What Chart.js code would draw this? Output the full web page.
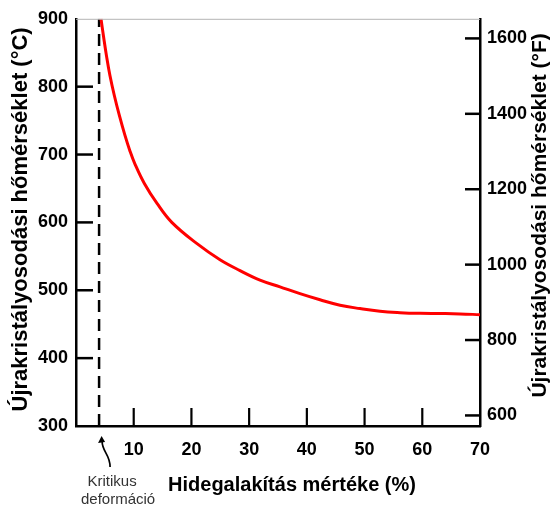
<!DOCTYPE html>
<html>
<head>
<meta charset="utf-8">
<script src="https://cdn.jsdelivr.net/npm/chart.js@4"></script>
<style>
  html, body { margin: 0; padding: 0; background: #fff; }
  #wrap { width: 553px; height: 507px; }
</style>
</head>
<body>
<div id="wrap"><canvas id="recryChart" width="553" height="507"></canvas></div>
<script>
// cold work (%) vs recrystallization temperature (°C)
const coldWork = [4.33, 4.77, 5.29, 5.89, 6.64, 7.5, 8.46, 9.36, 10.22, 11.87, 14.04, 16.6, 20.91, 24.95, 28.42, 31.88, 35.35, 38.81, 42.28, 45.75, 49.21, 52.68, 56.14, 59.61, 63.07, 66.54, 70];
const recryTempC = [900, 874, 845, 816, 787, 758, 729, 705, 686, 657, 628, 600, 569, 545, 529, 515, 505, 495, 486, 478, 473, 469, 467, 466, 465.7, 465.2, 464];
const critDeform = 4;

const xTicks = [10, 20, 30, 40, 50, 60, 70];
const celsiusTicks = [300, 400, 500, 600, 700, 800, 900];
const fahrenheitTicks = [600, 800, 1000, 1200, 1400, 1600];

const cMin = 300, cMax = 900;
const toF = c => c * 9 / 5 + 32;

const labelFont = { family: 'Liberation Sans, Arial, sans-serif', size: 18, weight: 'bold' };
const plain = v => String(v);

const decor = {
  id: 'decor',
  afterDraw(chart) {
    const { ctx, chartArea: a, scales } = chart;
    const line = (x1, y1, x2, y2) => { ctx.beginPath(); ctx.moveTo(x1, y1); ctx.lineTo(x2, y2); ctx.stroke(); };
    ctx.save();
    // thin top frame
    ctx.strokeStyle = '#b4b4b4';
    ctx.lineWidth = 1;
    line(a.left, a.top + 0.5, a.right, a.top + 0.5);

    // inward tick marks
    ctx.strokeStyle = '#000';
    ctx.lineWidth = 2.5;
    celsiusTicks.slice(1, -1).forEach(v => {
      const y = scales.y.getPixelForValue(v);
      line(a.left, y, a.left + 17, y);
    });
    fahrenheitTicks.forEach(v => {
      const y = scales.y2.getPixelForValue(v);
      line(a.right - 15, y, a.right, y);
    });
    ctx.lineWidth = 2.2;
    xTicks.slice(0, -1).forEach(v => {
      const x = scales.x.getPixelForValue(v);
      line(x, a.bottom, x, a.bottom - 18);
    });

    // axis titles
    ctx.fillStyle = '#000';
    ctx.textAlign = 'center';
    ctx.textBaseline = 'middle';
    ctx.font = 'bold 20px "Liberation Sans", Arial, sans-serif';
    ctx.fillText('Hidegalakítás mértéke (%)', (a.left + a.right) / 2 + 14, 485);

    const midY = (a.top + a.bottom) / 2;
    ctx.save();
    ctx.translate(21, midY - 3);
    ctx.rotate(-Math.PI / 2);
    ctx.font = 'bold 22px "Liberation Sans", Arial, sans-serif';
    ctx.fillText('Újrakristályosodási hőmérséklet (°C)', 0, 0);
    ctx.restore();

    ctx.save();
    ctx.translate(540, midY - 7);
    ctx.rotate(-Math.PI / 2);
    ctx.font = 'bold 21px "Liberation Sans", Arial, sans-serif';
    ctx.fillText('Újrakristályosodási hőmérséklet (°F)', 0, 0);
    ctx.restore();

    // critical deformation note with curved arrow
    const xd = scales.x.getPixelForValue(critDeform);
    ctx.lineWidth = 1.7;
    ctx.beginPath();
    ctx.moveTo(xd + 11, a.bottom + 41);
    ctx.bezierCurveTo(xd + 11, a.bottom + 28, xd + 3, a.bottom + 26, xd + 3, a.bottom + 15);
    ctx.stroke();
    ctx.beginPath();
    ctx.moveTo(xd + 2.5, a.bottom + 10);
    ctx.lineTo(xd - 1, a.bottom + 17);
    ctx.lineTo(xd + 6, a.bottom + 16);
    ctx.closePath();
    ctx.fill();

    ctx.fillStyle = '#333';
    ctx.font = '15px "Liberation Sans", Arial, sans-serif';
    ctx.fillText('Kritikus', xd + 13, 482);
    ctx.fillText('deformáció', xd + 19, 500);
    ctx.restore();
  }
};

const ctx = document.getElementById('recryChart').getContext('2d');
new Chart(ctx, {
  type: 'line',
  data: {
    datasets: [
      {
        data: coldWork.map((x, i) => ({ x: x, y: recryTempC[i] })),
        borderColor: '#ff0000',
        borderWidth: 3,
        pointRadius: 0,
        tension: 0.4,
        xAxisID: 'x',
        yAxisID: 'y',
      },
      {
        data: [{ x: critDeform, y: cMin }, { x: critDeform, y: cMax }],
        borderColor: '#000',
        borderWidth: 2.5,
        borderDash: [12, 7],
        pointRadius: 0,
        xAxisID: 'x',
        yAxisID: 'y',
      },
    ],
  },
  options: {
    responsive: false,
    animation: false,
    layout: { padding: { top: 12 } },
    plugins: { legend: { display: false }, tooltip: { enabled: false } },
    scales: {
      x: {
        type: 'linear',
        min: 0,
        max: 70,
        afterBuildTicks: s => { s.ticks = xTicks.map(v => ({ value: v })); },
        afterFit: s => { s.height = 81; },
        grid: { display: false, drawTicks: false },
        border: { display: true, color: '#000', width: 2.5 },
        ticks: { color: '#000', font: labelFont, padding: 13, maxRotation: 0, callback: plain },
      },
      y: {
        type: 'linear',
        position: 'left',
        min: cMin,
        max: cMax,
        afterBuildTicks: s => { s.ticks = celsiusTicks.map(v => ({ value: v })); },
        afterFit: s => { s.width = 76; },
        grid: { display: false, drawTicks: false },
        border: { display: true, color: '#000', width: 2.5 },
        ticks: { color: '#000', font: labelFont, padding: 8, callback: plain },
      },
      y2: {
        type: 'linear',
        position: 'right',
        display: true,
        min: toF(cMin),
        max: toF(cMax),
        afterBuildTicks: s => { s.ticks = fahrenheitTicks.map(v => ({ value: v })); },
        afterFit: s => { s.width = 73; },
        grid: { display: false, drawTicks: false },
        border: { display: true, color: '#000', width: 2.5 },
        ticks: { color: '#000', font: labelFont, padding: 7, callback: plain },
      },
    },
  },
  plugins: [decor],
});
</script>
</body>
</html>
